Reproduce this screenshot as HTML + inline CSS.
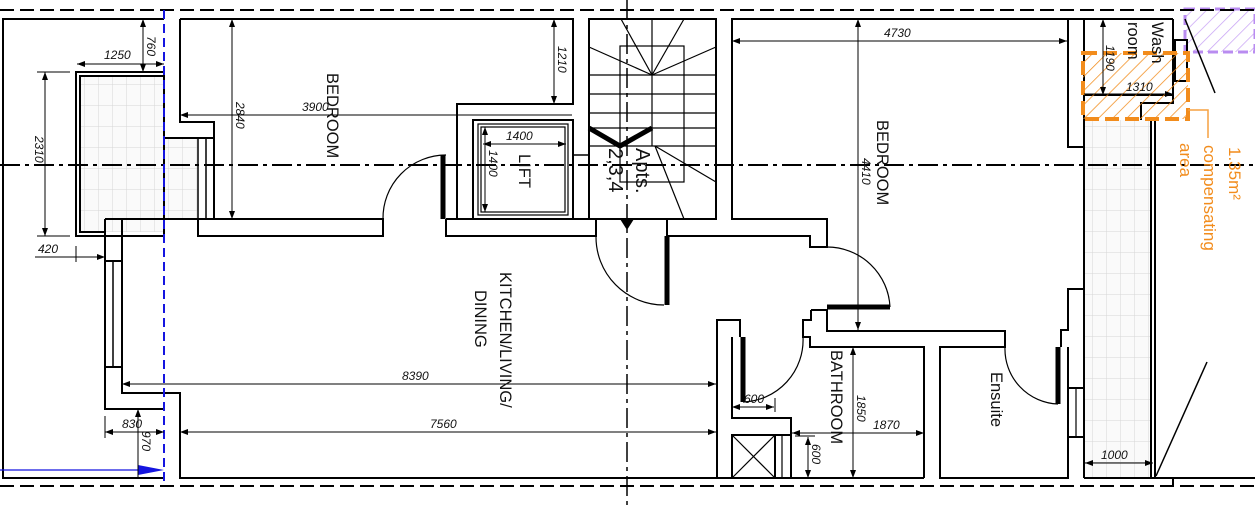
<!DOCTYPE html>
<html><head><meta charset="utf-8"><style>
html,body{margin:0;padding:0;background:#fff;width:1255px;height:507px;overflow:hidden}
svg{display:block}
text{font-family:"Liberation Sans",sans-serif;font-style:italic;font-size:12px;fill:#111}
.r{font-style:normal;font-size:16.5px}
</style></head><body>
<svg width="1255" height="507" viewBox="0 0 1255 507" xmlns="http://www.w3.org/2000/svg">
<defs>
<pattern id="tile" width="14" height="21" patternUnits="userSpaceOnUse">
<rect width="14" height="21" fill="#fafafa"/><path d="M0 0H14M0 0V21" stroke="#d6d6d6" stroke-width="1"/>
</pattern>
<pattern id="ho" width="10" height="10" patternUnits="userSpaceOnUse" patternTransform="rotate(45)">
<line x1="0" y1="0" x2="0" y2="10" stroke="#f28c1c" stroke-width="1.5"/></pattern>
<pattern id="hp" width="10" height="10" patternUnits="userSpaceOnUse" patternTransform="rotate(45)">
<line x1="0" y1="0" x2="0" y2="10" stroke="#c9a4f5" stroke-width="1.5"/></pattern>
<marker id="a" markerWidth="8" markerHeight="6" refX="8" refY="3" orient="auto-start-reverse"><path d="M0 0L8 3L0 6z" fill="#000"/></marker>
</defs>
<!-- tiles -->
<rect x="80" y="76" width="84" height="156" fill="url(#tile)"/>
<rect x="164" y="138" width="34" height="81" fill="url(#tile)"/>
<rect x="1085" y="120" width="66" height="357" fill="url(#tile)"/>
<rect x="1185" y="9" width="70" height="43" fill="url(#hp)" stroke="#b98cf0" stroke-width="3" stroke-dasharray="10 5"/>
<!-- axes -->
<g stroke="#000" stroke-width="2" fill="none">
<line x1="0" y1="10" x2="1255" y2="10" stroke-dasharray="14 6"/>
<line x1="0" y1="486" x2="1255" y2="486" stroke-dasharray="14 6"/>
<line x1="0" y1="165" x2="1255" y2="165" stroke-dasharray="20 5 4 5"/>
<line x1="627" y1="0" x2="627" y2="507" stroke-dasharray="20 5 4 5" stroke-width="1.5"/>
</g>
<g stroke="#000" stroke-width="2" fill="none" stroke-linejoin="miter">
<polyline points="164,19 3,19 3,478 164,478"/>
<rect x="76" y="72" width="88" height="164"/>
<polyline points="164,76 80,76 80,232 105,232"/>
<polyline points="180,19 180,122 214,122 214,219"/>
<line x1="164" y1="138" x2="214" y2="138"/>
<line x1="198" y1="138" x2="198" y2="219" stroke-width="1.5"/><line x1="206" y1="138" x2="206" y2="219" stroke-width="1.5"/>
<polyline points="180,19 573,19 573,104 457,104 457,219"/>
<rect x="198" y="219" width="185" height="17"/>
<polyline points="105,219 105,409 164,409"/>
<polyline points="122,219 122,393 180,393 180,478 717,478 717,320 740,320 740,337"/>
<line x1="105" y1="261" x2="122" y2="261"/><line x1="105" y1="367" x2="122" y2="367"/>
<line x1="113" y1="261" x2="113" y2="367" stroke-width="1.5"/>
<polyline points="105,219 198,219"/>
<polyline points="446,219 446,236 596,236 596,219"/>
<line x1="446" y1="219" x2="596" y2="219"/>
<rect x="473" y="120" width="100" height="99"/>
<rect x="478" y="124" width="90" height="91" stroke-width="1.2"/>
<rect x="481" y="127" width="84" height="85" stroke-width="1.2"/>
<rect x="573" y="155" width="16" height="64" stroke-width="1.5"/>
<rect x="589" y="19" width="127" height="200"/>
<g stroke-width="1.2">
<rect x="620" y="46" width="64" height="136"/>
<line x1="652" y1="19" x2="652" y2="146"/>
<line x1="589" y1="75" x2="716" y2="75"/><line x1="589" y1="94" x2="716" y2="94"/><line x1="589" y1="113" x2="716" y2="113"/><line x1="589" y1="128" x2="716" y2="128"/><line x1="589" y1="146" x2="716" y2="146"/>
<line x1="652" y1="75" x2="621" y2="19"/><line x1="652" y1="75" x2="684" y2="19"/><line x1="652" y1="75" x2="589" y2="47"/><line x1="652" y1="75" x2="716" y2="47"/>
<line x1="655" y1="146" x2="716" y2="182"/><line x1="655" y1="146" x2="684" y2="219"/>
</g>
<polyline points="589,128 620,146 652,128" stroke-width="5"/>
<polyline points="667,219 667,236 810,236 810,247 827,247 827,219 732,219 732,19 1173,19"/>
<line x1="667" y1="236" x2="667" y2="305" stroke-width="5"/>
<path d="M596 236 A68 68 0 0 0 664 305" stroke-width="1.2"/>
<line x1="443" y1="155" x2="443" y2="219" stroke-width="5"/>
<path d="M446 155 A63 63 0 0 0 383 219" stroke-width="1.2"/>
<line x1="827" y1="307" x2="890" y2="307" stroke-width="5"/>
<path d="M827 247 A63 63 0 0 1 890 307" stroke-width="1.2"/>
<polyline points="811,310 827,310 827,331 1005,331 1005,347 940,347 940,478 1068,478 1068,347"/>
<polyline points="811,310 811,320 803,320 803,337 810,337 810,347 924,347 924,478"/>
<polyline points="732,337 732,418 791,418 791,435"/>
<line x1="743" y1="337" x2="743" y2="402" stroke-width="5"/>
<path d="M803 337 A62 62 0 0 1 743 402" stroke-width="1.2"/>
<rect x="732" y="435" width="43" height="43"/>
<line x1="732" y1="435" x2="775" y2="478" stroke-width="1.2"/><line x1="775" y1="435" x2="732" y2="478" stroke-width="1.2"/>
<line x1="782" y1="435" x2="782" y2="478" stroke-width="1.2"/><line x1="791" y1="435" x2="791" y2="478"/>
<line x1="775" y1="435" x2="791" y2="435"/>
<line x1="717" y1="478" x2="924" y2="478"/>
<line x1="1058" y1="347" x2="1058" y2="404" stroke-width="5"/>
<path d="M1005 347 A55 55 0 0 0 1058 404" stroke-width="1.2"/>
<polyline points="1061,347 1061,330 1068,330 1068,289 1084,289"/>
<line x1="1068" y1="388" x2="1084" y2="388"/><line x1="1068" y1="437" x2="1084" y2="437"/><line x1="1076" y1="388" x2="1076" y2="437" stroke-width="1.2"/>
<line x1="1068" y1="437" x2="1068" y2="478"/>
<polyline points="1068,19 1068,147 1084,147"/>
<line x1="1084" y1="19" x2="1084" y2="478"/>
<line x1="1084" y1="95" x2="1173" y2="95"/>
<polyline points="1173,19 1173,103 1141,103 1141,120"/>
<rect x="1175" y="40" width="12" height="41"/>
<line x1="1151" y1="120" x2="1151" y2="478"/><line x1="1155" y1="120" x2="1155" y2="478"/>
<line x1="1084" y1="478" x2="1255" y2="478"/>
<line x1="1173" y1="478" x2="1173" y2="486"/>
<line x1="1185" y1="19" x2="1215" y2="93" stroke-width="1.5"/>
<line x1="1156" y1="476" x2="1207" y2="362" stroke-width="1.5"/>
</g>
<rect x="1083" y="53" width="105" height="66" fill="url(#ho)" stroke="#f28c1c" stroke-width="4" stroke-dasharray="14 6"/>
<polyline points="1188,110 1208,110 1208,138" fill="none" stroke="#f5a040" stroke-width="1.5"/>
<line x1="164" y1="10" x2="164" y2="486" stroke="#1515e0" stroke-width="2" stroke-dasharray="9 5"/>
<line x1="0" y1="470" x2="140" y2="470" stroke="#1515e0" stroke-width="1.2"/>
<path d="M138 465L164 470L138 475z" fill="#1515e0"/>
<g stroke="#000" stroke-width="1" fill="none">
<line x1="77" y1="64" x2="164" y2="64" marker-start="url(#a)" marker-end="url(#a)"/>
<line x1="143" y1="19" x2="143" y2="72" marker-start="url(#a)" marker-end="url(#a)"/>
<line x1="45" y1="72" x2="45" y2="236" marker-start="url(#a)" marker-end="url(#a)"/>
<line x1="37" y1="72" x2="70" y2="72"/><line x1="37" y1="236" x2="70" y2="236"/>
<line x1="35" y1="257" x2="105" y2="257" marker-end="url(#a)"/><line x1="76" y1="246" x2="76" y2="262"/>
<line x1="232" y1="19" x2="232" y2="219" marker-start="url(#a)" marker-end="url(#a)"/>
<line x1="180" y1="115" x2="572" y2="115" marker-start="url(#a)"/>
<line x1="554" y1="19" x2="554" y2="104" marker-start="url(#a)" marker-end="url(#a)"/>
<line x1="483" y1="144" x2="566" y2="144" marker-start="url(#a)" marker-end="url(#a)"/>
<line x1="485" y1="127" x2="485" y2="212" marker-start="url(#a)" marker-end="url(#a)"/>
<line x1="732" y1="41" x2="1067" y2="41" marker-start="url(#a)" marker-end="url(#a)"/>
<line x1="858" y1="19" x2="858" y2="330" marker-start="url(#a)" marker-end="url(#a)"/>
<line x1="1103" y1="19" x2="1103" y2="95" marker-start="url(#a)" marker-end="url(#a)"/>
<line x1="1084" y1="94" x2="1173" y2="94" marker-end="url(#a)"/>
<line x1="122" y1="384" x2="716" y2="384" marker-start="url(#a)" marker-end="url(#a)"/>
<line x1="180" y1="432" x2="716" y2="432" marker-start="url(#a)" marker-end="url(#a)"/>
<line x1="105" y1="432" x2="164" y2="432" marker-start="url(#a)" marker-end="url(#a)"/><line x1="105" y1="416" x2="105" y2="438"/>
<line x1="138" y1="409" x2="138" y2="478" marker-start="url(#a)"/>
<line x1="732" y1="407" x2="774" y2="407" marker-start="url(#a)" marker-end="url(#a)"/><line x1="775" y1="398" x2="775" y2="412"/>
<line x1="808" y1="437" x2="808" y2="478" marker-start="url(#a)" marker-end="url(#a)"/><line x1="795" y1="436" x2="815" y2="436"/>
<line x1="853" y1="347" x2="853" y2="478" marker-start="url(#a)" marker-end="url(#a)"/>
<line x1="792" y1="433" x2="924" y2="433" marker-start="url(#a)" marker-end="url(#a)"/>
<line x1="1085" y1="463" x2="1153" y2="463" marker-start="url(#a)" marker-end="url(#a)"/>
</g>
<polygon points="620,219 634,219 627,230" fill="#000"/>
<text x="104" y="59">1250</text>
<text x="38" y="253">420</text>
<text x="302" y="111">3900</text>
<text x="506" y="140">1400</text>
<text x="884" y="37">4730</text>
<text x="1126" y="91">1310</text>
<text x="402" y="380">8390</text>
<text x="430" y="428">7560</text>
<text x="122" y="428">830</text>
<text x="744" y="403">600</text>
<text x="873" y="429">1870</text>
<text x="1101" y="459">1000</text>
<text transform="translate(147,36) rotate(90)">760</text>
<text transform="translate(35,136) rotate(90)">2310</text>
<text transform="translate(236,102) rotate(90)">2840</text>
<text transform="translate(558,46) rotate(90)">1210</text>
<text transform="translate(489,150) rotate(90)">1400</text>
<text transform="translate(862,158) rotate(90)">4410</text>
<text transform="translate(1106,45) rotate(90)">1190</text>
<text transform="translate(142,431) rotate(90)">970</text>
<text transform="translate(812,444) rotate(90)">600</text>
<text transform="translate(857,395) rotate(90)">1850</text>
<text class="r" transform="translate(327,73) rotate(90)">BEDROOM</text>
<text class="r" transform="translate(500,272) rotate(90)">KITCHEN/LIVING/</text>
<text class="r" transform="translate(475,290) rotate(90)">DINING</text>
<text class="r" transform="translate(519,154) rotate(90)">LIFT</text>
<text class="r" style="font-size:20px" transform="translate(636,148) rotate(90)">Apts.</text>
<text class="r" style="font-size:20px" transform="translate(609,148) rotate(90)">2,3,4</text>
<text class="r" transform="translate(877,120) rotate(90)">BEDROOM</text>
<text class="r" transform="translate(831,350) rotate(90)">BATHROOM</text>
<text class="r" transform="translate(991,372) rotate(90)">Ensuite</text>
<text class="r" transform="translate(1152,22) rotate(90)">Wash</text>
<text class="r" transform="translate(1128,22) rotate(90)">room</text>
<text class="r" style="fill:#f28c1c;font-size:17px" transform="translate(1229,147) rotate(90)">1.35m²</text>
<text class="r" style="fill:#f28c1c;font-size:17px" transform="translate(1204,145) rotate(90)">compensating</text>
<text class="r" style="fill:#f28c1c;font-size:17px" transform="translate(1180,143) rotate(90)">area</text>
</svg>
</body></html>
